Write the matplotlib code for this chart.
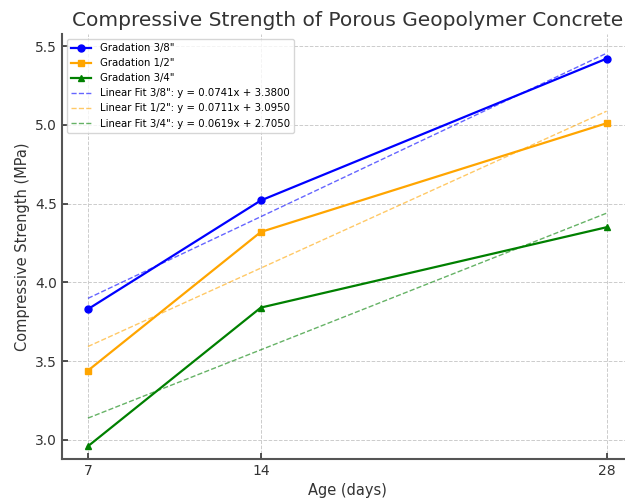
import matplotlib
matplotlib.use("Agg")
import matplotlib.pyplot as plt
import numpy as np

days = [7, 14, 28]
grad_38 = [3.83, 4.52, 5.42]
grad_12 = [3.44, 4.32, 5.01]
grad_34 = [2.96, 3.84, 4.35]
names = ['3/8"', '1/2"', '3/4"']
colors = ['blue', 'orange', 'green']
markers = ['o', 's', '^']

fig = plt.figure(figsize=(6.25, 5.01), dpi=100)
ax = fig.add_axes([0.0992, 0.0838, 0.9128, 0.8482])

series = [grad_38, grad_12, grad_34]
for vals, nm, c, m in zip(series, names, colors, markers):
    ax.plot(days, vals, color=c, marker=m, linewidth=1.6, markersize=5, label=f'Gradation {nm}')

x = np.array(days, dtype=float)
for vals, nm, c in zip(series, names, colors):
    slope, intercept = np.polyfit(x, np.array(vals), 1)
    ax.plot(x, slope * x + intercept, color=c, linestyle='--', linewidth=1, alpha=0.6,
            label=f'Linear Fit {nm}: y = {slope:.4f}x + {intercept:.4f}')

ax.set_xlim(5.95, 29.05)
ax.set_ylim(2.879, 5.576)
ax.set_xticks(days)
ax.set_yticks([3.0, 3.5, 4.0, 4.5, 5.0, 5.5])
ax.grid(True, linestyle='--', color='#cccccc', linewidth=0.7)
ax.tick_params(direction='in', colors='#333333', labelsize=10, length=4, width=1.2)
for s in ['top', 'right']:
    ax.spines[s].set_visible(False)
for s in ['left', 'bottom']:
    ax.spines[s].set_color('#555555')
    ax.spines[s].set_linewidth(1.5)

ax.set_title('Compressive Strength of Porous Geopolymer Concrete', fontsize=14.5, color='#333333')
ax.set_xlabel('Age (days)', fontsize=10.5, color='#333333')
ax.set_ylabel('Compressive Strength (MPa)', fontsize=10.5, color='#333333')
ax.legend(loc='upper left', fontsize=7.3, frameon=True)

fig.savefig('out.png', dpi=100)
